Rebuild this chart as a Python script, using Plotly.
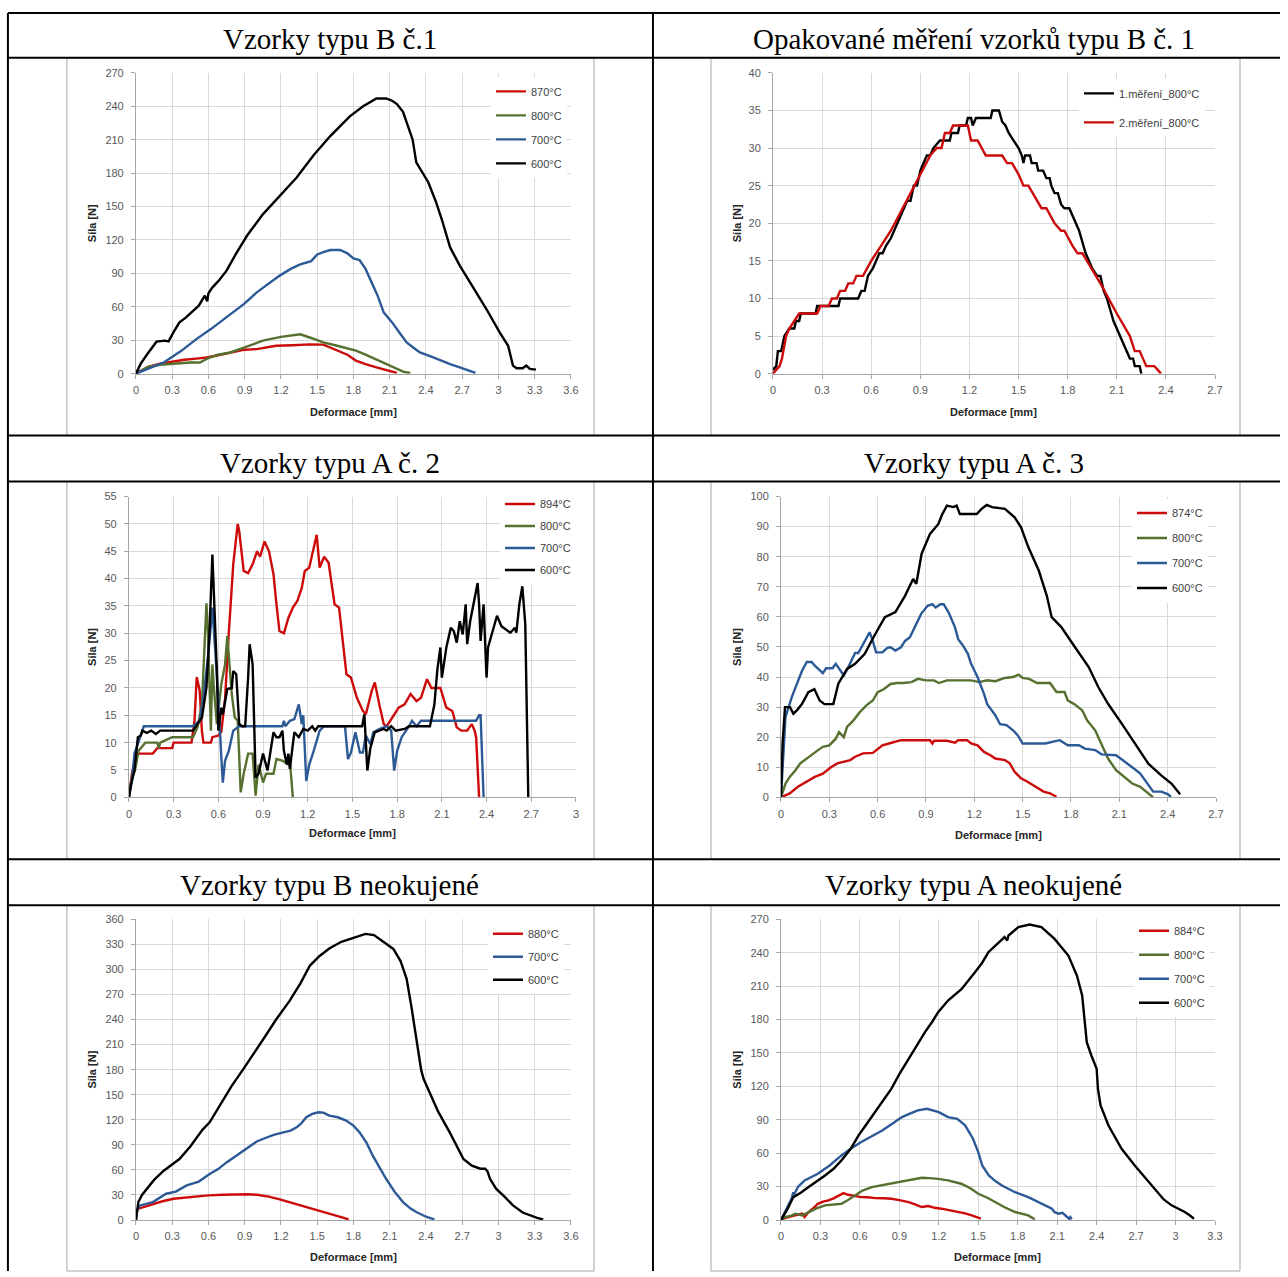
import plotly.graph_objects as go

W, H = 1288, 1277

# ---------------- DATA ----------------
# Chart 1: Vzorky typu B č.1
b1_870_x = [0,0.1,0.2,0.3,0.4,0.5,0.585,0.7,0.8,0.9,1.0,1.16,1.3,1.44,1.55,1.6,1.68,1.75,1.82,1.9,1.99,2.08,2.16]
b1_870_y = [0,6,9,11,12.5,13.5,14.5,17,19,21.5,22,25,25.5,26.3,26,23.6,20,17,11.7,8.5,5.7,3,0.6]
b1_800_x = [0,0.1,0.2,0.3,0.45,0.53,0.6,0.68,0.78,0.9,1.05,1.2,1.36,1.45,1.55,1.65,1.75,1.82,1.9,1.97,2.04,2.1,2.16,2.22,2.27]
b1_800_y = [0,6,8,9,10,10,14,17,19,23.5,29.6,33,35.3,32,28,25.5,23,20.6,17,13.5,10,7,4,1.5,0.6]
b1_700_x = [0,0.1,0.23,0.37,0.5,0.62,0.78,0.9,1.0,1.1,1.19,1.28,1.36,1.45,1.5,1.55,1.61,1.69,1.75,1.8,1.85,1.9,1.94,2.0,2.05,2.12,2.18,2.24,2.3,2.35,2.45,2.52,2.6,2.68,2.75,2.81]
b1_700_y = [0,4.5,10,20,31,40,53.5,63,73,81,88,94,98,101,107,109,111,111,108,103.5,102,94,85,70,55,46,37,28,23,19,15,11.7,8.5,5.7,3,0.6]
b1_600_x = [0,0.04,0.09,0.17,0.24,0.27,0.31,0.36,0.41,0.46,0.52,0.57,0.59,0.6,0.63,0.69,0.75,0.83,0.92,1.05,1.19,1.33,1.47,1.61,1.77,1.88,1.99,2.03,2.07,2.12,2.16,2.21,2.25,2.29,2.32,2.36,2.42,2.48,2.53,2.6,2.68,2.79,2.9,3.01,3.08,3.12,3.15,3.2,3.23,3.26,3.31]
b1_600_y = [0,9,17,28.7,29.6,29,37,46,50,55,61,70,65,72,77,84,92.4,108,124,143,160,176,196,213.5,231,240,247,247,247,245,242,235,222.5,210,189.6,182,171.6,155,138.8,113.3,97,77.5,58,37,25,7.2,4.8,4.8,7.2,4.2,3.6]

# Chart 2: Opakované měření vzorků typu B č. 1
r1_x = [0,0.02,0.03,0.05,0.06,0.07,0.1,0.13,0.14,0.16,0.17,0.26,0.27,0.4,0.41,0.52,0.54,0.56,0.58,0.61,0.63,0.65,0.67,0.69,0.72,0.74,0.76,0.78,0.8,0.82,0.84,0.86,0.88,0.9,0.92,0.94,0.96,0.98,1.02,1.08,1.09,1.13,1.14,1.18,1.19,1.21,1.22,1.24,1.33,1.34,1.38,1.4,1.42,1.44,1.47,1.5,1.52,1.53,1.54,1.57,1.58,1.61,1.62,1.65,1.67,1.69,1.7,1.72,1.74,1.76,1.78,1.81,1.83,1.85,1.87,1.89,1.91,1.93,1.95,1.98,2.0,2.02,2.04,2.06,2.08,2.1,2.12,2.14,2.16,2.18,2.2,2.21,2.24,2.25]
r1_y = [0.5,1,3,3,4,5,6,6,7,7,8,8,9,9,10,10,11,11,13,14,15,16,16,17,18,19,20,21,22,23,23,25,25,27,28,29,29,30,31,31,32,32,33,33,34,34,33,34,34,35,35,33.5,33,32,31,30,29,28,29,29,28,28,27,27,26,26,25,24,24,22.5,22,22,21,20,19,17.5,16,15,14,13,13,11,10,8.5,7,6,5,4,3,2,2,1,1,0]
r2_x = [0,0.04,0.055,0.07,0.08,0.1,0.13,0.16,0.27,0.29,0.34,0.36,0.39,0.41,0.44,0.46,0.49,0.51,0.55,0.6,0.66,0.72,0.78,0.84,0.9,0.96,0.98,1.0,1.03,1.04,1.05,1.08,1.1,1.19,1.21,1.25,1.3,1.4,1.43,1.46,1.5,1.53,1.56,1.6,1.64,1.67,1.72,1.76,1.78,1.83,1.86,1.89,2.0,2.1,2.18,2.21,2.24,2.28,2.33,2.37]
r2_y = [0,1,2,4,5,6,7,8,8,9,9,10,10,11,11,12,12,13,13,15,17,19,21.5,24,26.5,29,29.5,30,30,31,32,32,33,33,31,31,29,29,28,28,26.5,25,25,23.5,22,22,20,19,19,17,16,16,12,8,5,3,3,1,1,0]

# Chart 3: Vzorky typu A č. 2
a2_894_x = [0,0.02,0.05,0.16,0.19,0.29,0.3,0.42,0.44,0.455,0.475,0.49,0.5,0.55,0.56,0.6,0.62,0.645,0.67,0.7,0.73,0.74,0.77,0.8,0.83,0.86,0.88,0.9,0.91,0.94,0.97,0.99,1.01,1.04,1.07,1.1,1.13,1.16,1.18,1.21,1.24,1.26,1.28,1.31,1.34,1.38,1.41,1.44,1.46,1.49,1.53,1.57,1.59,1.63,1.65,1.68,1.71,1.73,1.78,1.81,1.85,1.89,1.93,1.96,2.0,2.03,2.09,2.13,2.17,2.2,2.23,2.27,2.3,2.32,2.33,2.35]
a2_894_y = [0,4.3,8,8,9,9,10,10,14,22,19.5,12,10,10,11,11.3,12,18,30,42.6,50,48.7,41.4,41,42.6,45,44,46,46.8,45,40.8,35.3,30.4,30,32.8,34.7,35.9,38.3,41.4,42,45.6,48,42,44,42.9,35.3,34.7,26.8,22.5,21.9,18.2,15.8,15.2,19.5,21,17,13.4,13,15.2,16.4,17,18.9,17.6,18.2,21.6,20,20,16.4,15.8,12.8,12.2,12.2,13.4,12.2,11,0]
a2_800_x = [0,0.02,0.04,0.065,0.11,0.19,0.2,0.21,0.29,0.43,0.46,0.49,0.52,0.53,0.55,0.56,0.57,0.59,0.62,0.645,0.66,0.69,0.71,0.73,0.75,0.77,0.8,0.83,0.85,0.87,0.9,0.92,0.97,0.99,1.03,1.07,1.08,1.1]
a2_800_y = [0,3.6,4.9,8.5,10,10,9,10,11,11,12.8,17,35.5,30.4,12.2,24.3,20,13.4,20.7,24.3,29.5,18.9,14.6,14,0.9,4.3,8,8,0.3,6,2.7,4.3,4.3,7,6.7,6,6.7,0]
a2_700_x = [0,0.02,0.037,0.065,0.1,0.43,0.475,0.5,0.53,0.56,0.57,0.6,0.62,0.63,0.645,0.67,0.7,0.74,1.03,1.04,1.05,1.08,1.11,1.14,1.16,1.17,1.19,1.21,1.24,1.28,1.31,1.45,1.47,1.49,1.52,1.55,1.57,1.59,1.62,1.64,1.68,1.73,1.76,1.78,1.8,1.83,1.88,1.9,1.93,1.96,2.33,2.35,2.36,2.38]
a2_700_y = [0,3,8,10.3,13,13,14,18.2,25.5,34.7,30.4,18.2,7.3,2.7,6.7,8.5,12.2,13,13,14,13,14,14.3,17,13.4,15,3,6,8.5,12.2,13,13,7,8.2,11.9,8.2,8.2,11.3,9.7,11.9,12.5,13,12.2,4.9,8.5,11,13,14,13,14,14,15,15,0]
a2_600_x = [0,0.014,0.037,0.06,0.08,0.09,0.12,0.15,0.18,0.21,0.43,0.49,0.52,0.54,0.56,0.57,0.59,0.6,0.62,0.63,0.66,0.69,0.7,0.72,0.74,0.76,0.78,0.8,0.81,0.83,0.85,0.87,0.89,0.9,0.93,0.94,0.96,0.97,0.99,1.01,1.03,1.04,1.06,1.07,1.08,1.1,1.11,1.14,1.17,1.2,1.23,1.25,1.27,1.565,1.58,1.6,1.62,1.65,1.68,1.71,1.73,1.76,1.79,1.85,1.88,2.02,2.05,2.07,2.09,2.1,2.12,2.13,2.15,2.16,2.18,2.2,2.22,2.24,2.26,2.27,2.29,2.32,2.34,2.35,2.36,2.38,2.39,2.4,2.41,2.44,2.47,2.5,2.53,2.56,2.59,2.6,2.62,2.64,2.66,2.68]
a2_600_y = [0,2.4,4.9,11,11.3,12.2,11.8,12.2,11.6,12.2,12.2,14.6,20,29.8,44.4,37.7,23.1,12.2,16.4,15.2,19.8,20,23.1,22.5,13.4,13,13,22,28,24.3,3.6,4.3,6.7,8,4.9,6.7,9.7,11.9,11,11,12.2,8.5,6,8,5.2,9.7,11.9,11,12.5,12.2,13,12.2,13,13,15.2,4.9,9,11.9,12.2,12.5,12.2,13,12.2,12.5,13,13,17,23.4,27.4,21.9,25.5,27.4,29.8,31,30.4,28.3,32.2,29.8,35.3,28,32.2,36.5,39.2,35.3,28.6,35.3,28,21.9,27.4,30.4,33.2,31.3,30.7,30.1,31,30.1,35.3,38.6,31.6,0]

# Chart 4: Vzorky typu A č. 3
a3_874_x = [0,0.028,0.054,0.105,0.16,0.21,0.26,0.31,0.35,0.39,0.43,0.46,0.51,0.57,0.6,0.63,0.67,0.71,0.745,0.925,0.94,0.95,1.03,1.08,1.1,1.155,1.18,1.22,1.26,1.3,1.33,1.39,1.42,1.45,1.49,1.53,1.565,1.6,1.63,1.67,1.71]
a3_874_y = [0,0.8,1.3,3.5,5.2,6.8,7.9,10,11.3,11.8,12.4,13.5,14.6,14.8,16.2,17.3,17.9,18.4,19,19,17.9,18.8,18.8,18.2,19,19,17.9,17.3,15.1,14,12.9,12.4,11.3,8.5,6.3,5.2,4.1,3,1.9,1.3,0.2]
a3_800_x = [0,0.028,0.054,0.09,0.12,0.16,0.18,0.21,0.23,0.26,0.3,0.34,0.36,0.39,0.41,0.45,0.49,0.53,0.57,0.6,0.64,0.68,0.72,0.76,0.81,0.85,0.9,0.95,0.98,1.03,1.18,1.23,1.28,1.33,1.39,1.44,1.475,1.5,1.54,1.59,1.67,1.71,1.76,1.78,1.82,1.87,1.9,1.95,1.99,2.03,2.08,2.13,2.18,2.23,2.27,2.31]
a3_800_y = [0,4.6,6.8,9,11.3,12.9,14,15.1,15.7,16.8,17.3,19.5,21.7,20,23.4,25.6,28.4,30.6,32.2,35,36,37.7,38,38,38.3,39.4,38.9,38.9,38,38.9,38.9,38.3,38.9,38.6,39.7,40,40.8,39.7,39.4,38,38,35,35,32.2,31,28.9,25.6,22.3,17.3,12.9,9,6.8,4.6,3.5,1.9,0]
a3_700_x = [0,0.01,0.028,0.067,0.1,0.13,0.16,0.19,0.21,0.23,0.26,0.28,0.32,0.34,0.36,0.39,0.41,0.44,0.46,0.48,0.51,0.54,0.55,0.57,0.59,0.63,0.66,0.68,0.71,0.745,0.77,0.8,0.835,0.87,0.91,0.94,0.96,0.99,1.01,1.04,1.08,1.1,1.13,1.16,1.18,1.22,1.26,1.28,1.33,1.36,1.4,1.44,1.47,1.5,1.64,1.69,1.73,1.78,1.85,1.885,1.95,1.99,2.05,2.08,2.12,2.15,2.19,2.23,2.26,2.31,2.36,2.4,2.42]
a3_700_y = [0,11.3,26.7,33.3,37.7,42,45,45,43.8,42.7,41.3,42.9,42.9,44.4,43,40.5,42.4,45.7,48,48,51,53.8,54.9,52,48.2,48.2,49.7,49.9,48.8,49.9,52,53.2,57,61,63.7,64.2,63.1,64.2,64.2,61.5,56.5,52.6,50.4,47.7,44.4,40,34.4,31,27.3,24.3,24,22.3,20.6,17.9,17.9,18.4,19,17.3,17.3,16.2,15.7,14.3,14,14,12.4,11.3,9.6,7.9,5.7,1.9,1.9,1.1,0.2]
a3_600_x = [0,0.01,0.025,0.056,0.077,0.1,0.13,0.17,0.207,0.24,0.27,0.325,0.356,0.41,0.46,0.52,0.58,0.645,0.71,0.77,0.82,0.84,0.873,0.925,0.977,1.0,1.03,1.07,1.09,1.11,1.215,1.245,1.277,1.31,1.39,1.45,1.49,1.535,1.6,1.65,1.68,1.74,1.825,1.91,1.97,2.03,2.115,2.2,2.28,2.36,2.425,2.477]
a3_600_y = [0,18,30,30,27.8,29,31,35,36,32.2,31,31,37.8,42.7,44.4,47.7,53.8,59.9,61.6,67,72.6,71,81,87.6,90.9,94,97,96.5,97,94.2,94.2,95.9,97.2,96.5,95.9,93.1,89.8,83.2,75.4,67,59.9,56.6,49.9,43.3,36.6,31.1,24.5,17.8,11.2,7.3,4.5,1]

# Chart 5: Vzorky typu B neokujené
bn_880_x = [0,0.005,0.02,0.07,0.14,0.22,0.31,0.4,0.5,0.6,0.72,0.86,0.93,1.0,1.1,1.19,1.28,1.36,1.44,1.52,1.6,1.66,1.72,1.76]
bn_880_y = [0,10,13.6,16,19.5,22.5,25.5,27,28.7,29.5,30.3,31,30.8,30.3,28,24.7,21,17.5,14.5,11.6,8,5.6,2.5,0.8]
bn_700_x = [0,0.01,0.033,0.08,0.14,0.25,0.33,0.42,0.52,0.61,0.68,0.75,0.83,0.92,1.0,1.05,1.14,1.22,1.28,1.33,1.37,1.41,1.46,1.51,1.55,1.6,1.67,1.74,1.8,1.85,1.91,1.96,2.01,2.07,2.14,2.21,2.27,2.32,2.4,2.47]
bn_700_y = [0,12,17.5,19,21.5,31.5,34,41.5,46,55,61,69,77,87,94,97,102,105,107,111,116,123,127,129,128.5,125,123,119,113,105,92,77,64,49.4,34,21.5,14,9.6,4,0.8]
bn_600_x = [0,0.01,0.02,0.05,0.09,0.15,0.23,0.3,0.36,0.45,0.55,0.61,0.7,0.79,0.89,0.97,1.07,1.16,1.27,1.36,1.44,1.52,1.6,1.7,1.8,1.9,1.97,2.05,2.13,2.19,2.24,2.28,2.32,2.36,2.38,2.43,2.5,2.6,2.71,2.78,2.85,2.89,2.91,2.93,2.98,3.05,3.12,3.2,3.26,3.32,3.37]
bn_600_y = [0,12,21.5,30,37.5,48,59,66,73,88,108,117,138,160,181,199,220,240,262,283,304.6,316,325,333,338,342.5,341,333,324.5,310,288.7,255,217,180,169,153,130,104,73,65,61.4,61.5,58,49.4,37.5,28,17.5,9,5.6,2.5,0.8]

# Chart 6: Vzorky typu A neokujené
an_884_x = [0,0.03,0.07,0.11,0.16,0.18,0.21,0.25,0.28,0.32,0.36,0.4,0.44,0.475,0.51,0.56,0.61,0.66,0.715,0.78,0.84,0.9,0.97,1.02,1.07,1.12,1.17,1.22,1.28,1.35,1.4,1.45,1.49,1.52]
an_884_y = [0,1.8,3,4.2,5.7,2.7,7.2,11,14.6,16.5,17.6,19.5,22,24.2,22.7,21.5,20.6,20.5,19.7,19.5,19.1,17.9,16.1,14,11.7,12.6,11,10.2,9,7.2,6,4.2,2.5,1.2]
an_800_x = [0,0.03,0.08,0.11,0.16,0.21,0.27,0.335,0.4,0.46,0.51,0.56,0.62,0.69,0.75,0.82,0.88,0.943,1.0,1.07,1.13,1.195,1.27,1.37,1.44,1.5,1.57,1.63,1.7,1.78,1.84,1.88,1.93]
an_800_y = [0,2.7,4,5.7,4.2,7.2,10.5,13.2,14,14.6,18,22,26.5,29.6,31,32.6,34,35.6,37,38,37.6,37,35.6,32.6,28.5,23.6,20,16.1,11.5,7.2,5.5,4.2,0.6]
an_700_x = [0,0.04,0.08,0.094,0.1,0.13,0.18,0.28,0.37,0.46,0.53,0.61,0.69,0.77,0.84,0.92,0.98,1.04,1.11,1.16,1.2,1.27,1.34,1.4,1.46,1.5,1.53,1.58,1.63,1.68,1.78,1.88,1.98,2.03,2.06,2.08,2.11,2.14,2.16,2.19,2.2,2.21]
an_700_y = [0,10,19,25,23,30,35.6,41.6,49,58,64,70,75,80.4,86,92.4,95.5,98.4,99.9,98.5,96.9,92.4,90.9,85,73,61,49,40,35,31,25,20.6,14.6,12,10.2,7,5.7,6.5,4.2,1.2,2.7,0.6]
an_600_x = [0,0.05,0.094,0.15,0.21,0.27,0.335,0.4,0.46,0.53,0.59,0.65,0.715,0.78,0.84,0.9,0.97,1.03,1.095,1.15,1.195,1.27,1.374,1.475,1.53,1.577,1.64,1.7,1.72,1.73,1.805,1.89,1.98,2.08,2.185,2.25,2.29,2.31,2.325,2.36,2.4,2.41,2.43,2.49,2.59,2.69,2.77,2.84,2.91,2.97,3.07,3.11,3.14]
an_600_y = [0,10,20.6,24.5,29.6,34.5,40,46,53.5,64,76,86,97,107,118,131,145,157,168.7,178,186.6,197,207.5,222.5,231,240.4,247,254,251,255.4,262.9,265.3,262.9,252.4,237.4,219.5,201.5,180.6,159.7,147.7,135.8,117.8,102.9,84.9,64,49,38,28,18.5,13.2,7.2,4,1.2]

# Tick labels
x_ticks_36 = ["0","0.3","0.6","0.9","1.2","1.5","1.8","2.1","2.4","2.7","3","3.3","3.6"]
x_ticks_27 = ["0","0.3","0.6","0.9","1.2","1.5","1.8","2.1","2.4","2.7"]
x_ticks_30 = ["0","0.3","0.6","0.9","1.2","1.5","1.8","2.1","2.4","2.7","3"]
x_ticks_33 = ["0","0.3","0.6","0.9","1.2","1.5","1.8","2.1","2.4","2.7","3","3.3"]
y_ticks_270 = [0,30,60,90,120,150,180,210,240,270]
y_ticks_40 = [0,5,10,15,20,25,30,35,40]
y_ticks_55 = [0,5,10,15,20,25,30,35,40,45,50,55]
y_ticks_100 = [0,10,20,30,40,50,60,70,80,90,100]
y_ticks_360 = [0,30,60,90,120,150,180,210,240,270,300,330,360]

titles = ["Vzorky typu B č.1", "Opakované měření vzorků typu B č. 1",
          "Vzorky typu A č. 2", "Vzorky typu A č. 3",
          "Vzorky typu B neokujené", "Vzorky typu A neokujené"]

RED, GREEN, BLUE, BLACK = "#cc0a0a", "#56702f", "#2c5a96", "#000000"

# ---------------- LAYOUT (target pixels) ----------------
charts = [
    dict(plot=(136, 571, 72, 373), xt=x_ticks_36, yt=y_ticks_270, ylab_x=92, xlab_y=411, leg=(567, 76), gap=5,
         series=[(b1_870_x, b1_870_y, "870°C", RED), (b1_800_x, b1_800_y, "800°C", GREEN),
                 (b1_700_x, b1_700_y, "700°C", BLUE), (b1_600_x, b1_600_y, "600°C", BLACK)]),
    dict(plot=(773, 1215, 72, 373), xt=x_ticks_27, yt=y_ticks_40, ylab_x=737, xlab_y=411, leg=(1205, 78), gap=10,
         series=[(r1_x, r1_y, "1.měření_800°C", BLACK), (r2_x, r2_y, "2.měření_800°C", RED)]),
    dict(plot=(129, 576, 496, 797), xt=x_ticks_30, yt=y_ticks_55, ylab_x=92, xlab_y=833, leg=(576, 489), gap=3,
         series=[(a2_894_x, a2_894_y, "894°C", RED), (a2_800_x, a2_800_y, "800°C", GREEN),
                 (a2_700_x, a2_700_y, "700°C", BLUE), (a2_600_x, a2_600_y, "600°C", BLACK)]),
    dict(plot=(781, 1216, 496, 797), xt=x_ticks_27, yt=y_ticks_100, ylab_x=737, xlab_y=835, leg=(1208, 498), gap=6,
         series=[(a3_874_x, a3_874_y, "874°C", RED), (a3_800_x, a3_800_y, "800°C", GREEN),
                 (a3_700_x, a3_700_y, "700°C", BLUE), (a3_600_x, a3_600_y, "600°C", BLACK)]),
    dict(plot=(136, 571, 919, 1220), xt=x_ticks_36, yt=y_ticks_360, ylab_x=92, xlab_y=1257, leg=(564, 919), gap=4,
         series=[(bn_880_x, bn_880_y, "880°C", RED), (bn_700_x, bn_700_y, "700°C", BLUE),
                 (bn_600_x, bn_600_y, "600°C", BLACK)]),
    dict(plot=(781, 1215, 919, 1220), xt=x_ticks_33, yt=y_ticks_270, ylab_x=737, xlab_y=1257, leg=(1210, 916), gap=5,
         series=[(an_884_x, an_884_y, "884°C", RED), (an_800_x, an_800_y, "800°C", GREEN),
                 (an_700_x, an_700_y, "700°C", BLUE), (an_600_x, an_600_y, "600°C", BLACK)]),
]

TICKFONT = dict(family="Liberation Sans", size=11, color="#595959")
LABFONT = dict(family="Liberation Sans", size=11, color="#262626")

fig = go.Figure()
layout = dict(width=W, height=H, margin=dict(l=0, r=0, t=0, b=0, pad=0),
              paper_bgcolor="white", plot_bgcolor="white", showlegend=True)
annotations = []
shapes = []

# the captured picture is slightly scaled/offset; map target pixels to paper coords accordingly
SX, OX, SY, OY = 0.9914, 3.07, 0.9913, 5.1

def px_x(p):
    return min(1.0, max(0.0, ((p - OX) / SX) / W))

def px_y(p):
    return min(1.0, max(0.0, 1 - ((p - OY) / SY) / H))

for i, c in enumerate(charts):
    k = "" if i == 0 else str(i + 1)
    x0, x1, y0, y1 = c["plot"]
    xv = [float(t) for t in c["xt"]]
    layout["xaxis" + k] = dict(
        domain=[px_x(x0), px_x(x1)], anchor="y" + k, range=[xv[0], xv[-1]],
        tickmode="array", tickvals=xv, ticktext=c["xt"], showgrid=True, gridcolor="#d9d9d9",
        gridwidth=1, showline=True, linecolor="#a6a6a6", linewidth=1, ticks="outside",
        ticklen=4, tickcolor="#a6a6a6", tickfont=TICKFONT, zeroline=False, fixedrange=True,
        ticklabelstandoff=2)
    layout["yaxis" + k] = dict(
        domain=[px_y(y1), px_y(y0)], anchor="x" + k, range=[c["yt"][0], c["yt"][-1]],
        tickmode="array", tickvals=c["yt"], showgrid=True, gridcolor="#d9d9d9",
        gridwidth=1, showline=True, linecolor="#a6a6a6", linewidth=1, ticks="outside",
        ticklen=4, tickcolor="#a6a6a6", tickfont=TICKFONT, zeroline=False, fixedrange=True,
        ticklabelstandoff=5)
    lg = "legend" + k
    lx, ly = c["leg"]
    layout[lg] = dict(x=px_x(lx), y=px_y(ly), xanchor="right", yanchor="top", xref="paper", yref="paper",
                      bgcolor="white", borderwidth=0, font=dict(family="Liberation Sans", size=11, color="#404040"),
                      traceorder="grouped", tracegroupgap=c["gap"], itemwidth=30)
    for j, (sx, sy, name, col) in enumerate(c["series"]):
        fig.add_trace(go.Scatter(x=sx, y=sy, mode="lines", name=name, line=dict(color=col, width=2.4),
                                 xaxis="x" + k, yaxis="y" + k, legend=lg, legendgroup=f"g{i}_{j}",
                                 hoverinfo="skip"))
    annotations.append(dict(text="<b>Síla [N]</b>", x=px_x(c["ylab_x"]), y=px_y((y0 + y1) / 2),
                            xref="paper", yref="paper", showarrow=False, textangle=-90,
                            font=LABFONT, xanchor="center", yanchor="middle"))
    annotations.append(dict(text="<b>Deformace [mm]</b>", x=px_x((x0 + x1) / 2), y=px_y(c["xlab_y"]),
                            xref="paper", yref="paper", showarrow=False,
                            font=LABFONT, xanchor="center", yanchor="middle"))

# headers
header_y = [38.5, 462, 885]
header_x = [330, 974]
for i, t in enumerate(titles):
    annotations.append(dict(text=t, x=px_x(header_x[i % 2]), y=px_y(header_y[i // 2]),
                            xref="paper", yref="paper", showarrow=False,
                            font=dict(family="Liberation Serif", size=29, color="black"),
                            xanchor="center", yanchor="middle"))

# chart frames
rows = [(57, 435), (481, 859), (905, 1290)]
for (ra, rb) in rows:
    for (ca, cb) in [(67, 594), (711, 1240)]:
        shapes.append(dict(type="rect", xref="paper", yref="paper", x0=px_x(ca), x1=px_x(cb),
                           y0=px_y(rb), y1=px_y(ra), line=dict(color="#a6a6a6", width=1), layer="below"))

# table lines
for yy in [12, 57, 435, 481, 859, 905]:
    shapes.append(dict(type="line", xref="paper", yref="paper", x0=px_x(8), x1=1.0,
                       y0=px_y(yy), y1=px_y(yy), line=dict(color="black", width=2)))
for xx in [8, 653]:
    shapes.append(dict(type="line", xref="paper", yref="paper", x0=px_x(xx), x1=px_x(xx),
                       y0=px_y(12), y1=0, line=dict(color="black", width=2)))

layout["annotations"] = annotations
layout["shapes"] = shapes
fig.update_layout(**layout)
fig.write_html("out.html")
